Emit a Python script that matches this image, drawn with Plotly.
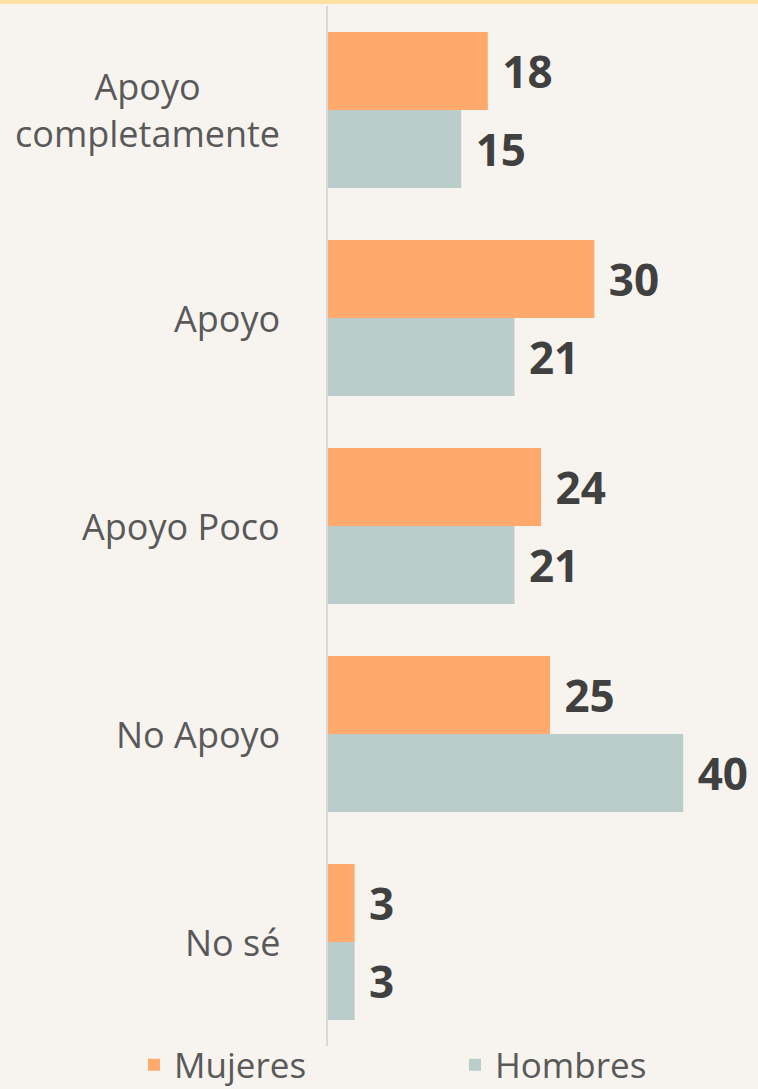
import plotly.graph_objects as go

categories = ["Apoyo<br>completamente", "Apoyo", "Apoyo Poco", "No Apoyo", "No sé"]
series_names = ["Mujeres", "Hombres"]
mujeres = [18, 30, 24, 25, 3]
hombres = [15, 21, 21, 40, 3]

colors = ["#FFAA6C", "#BACDCA"]
BG = "#F7F4EF"

W, H = 758, 1089
ML, MR, MT, MB = 328, 0, 6, 43
plot_w = W - ML - MR
plot_h = H - MT - MB
px_per_unit = 8.88

fig = go.Figure()
for name, vals, col in zip(series_names, [mujeres, hombres], colors):
    fig.add_trace(go.Bar(
        y=categories, x=vals, name=name, orientation="h",
        marker=dict(color=col, line=dict(width=0)),
        text=vals, texttemplate="\u00a0%{x}", textposition="outside",
        textfont=dict(family="Open Sans", size=44, color="#404040", weight="bold"),
        cliponaxis=False, constraintext="none",
    ))

annotations = []
for c in categories:
    annotations.append(dict(
        x=(282 - ML) / plot_w, xref="paper", y=c, yref="y",
        text=c, showarrow=False, xanchor="right", align="center",
        font=dict(family="Open Sans", size=36, color="#595959"),
    ))

fig.update_layout(
    width=W, height=H,
    margin=dict(l=ML, r=MR, t=MT, b=MB, autoexpand=False),
    paper_bgcolor=BG, plot_bgcolor=BG,
    barmode="group", bargap=0.25, bargroupgap=0,
    xaxis=dict(range=[0, plot_w / px_per_unit], visible=False, fixedrange=True),
    yaxis=dict(autorange="reversed", showticklabels=False, showgrid=False,
               showline=True, linecolor="#D9D9D9", linewidth=2, ticks="",
               zeroline=False, fixedrange=True),
    showlegend=True,
    legend=dict(orientation="h", x=(134 - ML) / plot_w, xanchor="left",
                y=-19 / plot_h, yanchor="middle",
                font=dict(family="Open Sans", size=35, color="#595959"),
                entrywidth=276, entrywidthmode="pixels",
                bgcolor="rgba(0,0,0,0)"),
    annotations=annotations,
    shapes=[dict(type="rect", xref="paper", yref="paper",
                 x0=-ML / plot_w - 0.01, x1=1.01,
                 y0=1 + (MT - 4) / plot_h, y1=1 + (MT + 2) / plot_h,
                 fillcolor="#FFE2A2", line=dict(width=0), layer="above")],
)

fig.write_html("out.html", config={"displayModeBar": False},
               post_script="document.body.style.margin='0';document.body.style.background='#F7F4EF';")
